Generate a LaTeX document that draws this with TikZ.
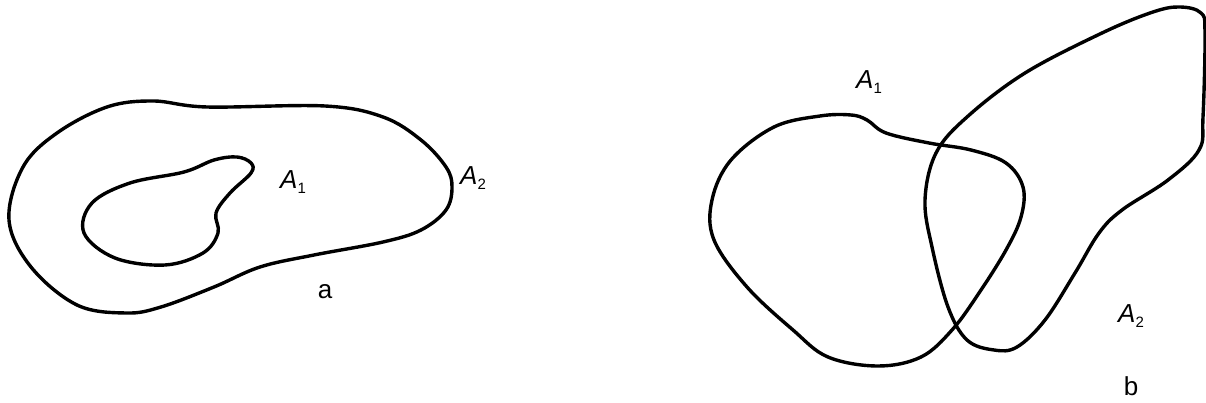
\documentclass[tikz,border=0pt]{standalone}
\usepackage{fontspec}
\setmainfont{Liberation Sans}
\begin{document}
\begin{tikzpicture}[x=1pt,y=-1pt,
  curve/.style={line width=3.4pt, line join=round},
  lbl/.style={font=\fontsize{26}{28}\selectfont, inner sep=0pt, anchor=center}]
\useasboundingbox (0,0) rectangle (1206,403);
% figure a: outer region A2
\draw[curve] plot[smooth cycle, tension=0.6] coordinates {
 (153,101) (207,107) (325,106) (383,117) (421,140) (446,167) (452,187)
 (446,210) (421,230) (383,242) (314,255) (260,267) (214,287) (161,307)
 (126,313) (77,305) (31,267) (9,220) (23,167) (57,133) (107,107)};
% figure a: inner region A1
\draw[curve] plot[smooth cycle, tension=0.6] coordinates {
 (237,157) (251,163) (251,173) (230,193) (216,213) (218,233) (203,253)
 (165,265) (115,258) (84,233) (92,203) (130,183) (184,172) (214,160)};
\node[lbl] (a1) at (293,182) {\textit{A}\raisebox{-0.35ex}{\fontsize{15}{16}\selectfont 1}};
\node[lbl] (a2) at (473,178) {\textit{A}\raisebox{-0.35ex}{\fontsize{15}{16}\selectfont 2}};
\node[lbl] (la) at (325,292) {a};
% figure b: A1
\draw[curve] plot[smooth cycle, tension=0.6] coordinates {
 (851,115) (867,120) (886,133) (929,143) (971,150) (1006,163) (1023,187)
 (1021,217) (1006,250) (979,293) (952,330) (921,357) (878,366) (828,357)
 (793,330) (747,287) (714,240) (712,200) (731,160) (774,127) (820,116)};
% figure b: A2
\draw[curve] plot[smooth cycle, tension=0.6] coordinates {
 (1180,7) (1201,13) (1205,33) (1203,117) (1199,150) (1168,180) (1122,210)
 (1099,233) (1075,273) (1045,320) (1017,347) (994,350) (967,340) (948,307)
 (932,247) (925,200) (936,153) (967,117) (1025,73) (1102,33) (1153,12)};
\node[lbl] (b1) at (869,82) {\textit{A}\raisebox{-0.35ex}{\fontsize{15}{16}\selectfont 1}};
\node[lbl] (b2) at (1131,316) {\textit{A}\raisebox{-0.35ex}{\fontsize{15}{16}\selectfont 2}};
\node[lbl] (lb) at (1131,386) {b};
\end{tikzpicture}
\end{document}
